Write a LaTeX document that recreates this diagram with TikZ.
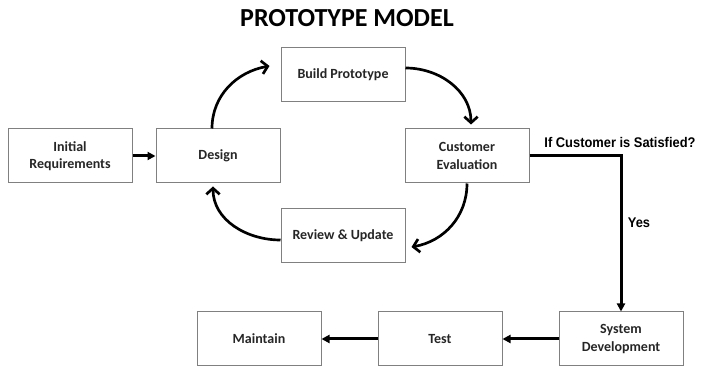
\documentclass[tikz,border=0pt]{standalone}
\usepackage{fontspec}
\usepackage{graphicx}
\setmainfont{Carlito}
\newfontfamily\arialfont{Liberation Sans}
\usetikzlibrary{arrows.meta}
\tikzset{every picture/.style={line width=0.75pt}}
\tikzset{
  stage/.style={draw=black!50, fill=white, line width=0.75pt, minimum width=93pt, minimum height=40.5pt,
    inner sep=1pt, align=center, text=black!85, font=\bfseries\fontsize{10.5}{13}\selectfont},
  loop arrow/.style={line width=2pt, -{Straight Barb[length=4.5pt,width=10pt]}},
  flow arrow/.style={line width=2.25pt, -{Triangle[length=6pt,width=6pt]}},
}

\begin{document}
\begin{tikzpicture}[x=0.75pt,y=0.75pt,yscale=-1,xscale=1]
\useasboundingbox (0,0) rectangle (701,367);

% heading
\draw (347,18) node [font=\bfseries\fontsize{19.5}{21}\selectfont, text=black] (title) {PROTOTYPE MODEL};

% prototyping loop
\draw (70,156) node [stage] (init) {Initial\\Requirements};
\draw (218,156) node [stage] (design) {Design};
\draw (343,75) node [stage] (build) {Build Prototype};
\draw (467,156) node [stage] (cust) {Customer\\Evaluation};
\draw (343,236) node [stage] (review) {Review \& Update};

% after the customer agrees
\draw (621,339) node [stage] (sysdev) {System\\Development};
\draw (440,339) node [stage] (test) {Test};
\draw (259,339) node [stage] (maint) {Maintain};

\draw (620,142) node [font=\arialfont\bfseries\fontsize{10.5}{12}\selectfont] (ask) {\scalebox{0.92}[1]{If Customer is Satisfied?}};
\draw (639,223) node [font=\arialfont\bfseries\fontsize{10.5}{12}\selectfont] (yes) {\scalebox{0.92}[1]{Yes}};

% yscale=-1 flips the angles and y shifts below
\draw [flow arrow] (init) -- (design);
\draw [loop arrow] ([xshift=-4.5pt]design.north) to[out=270,in=170] ([xshift=-8.25pt,yshift=-6.75pt]build.west);
\draw [loop arrow] ([yshift=-5.25pt]build.east) to[out=0,in=270] ([xshift=3pt,yshift=-3pt]cust.north);
\draw [loop arrow] (cust.south) to[out=90,in=350] ([xshift=4.5pt,yshift=8.25pt]review.east);
\draw [loop arrow] ([yshift=3pt]review.west) to[out=180,in=90] ([xshift=-3.75pt,yshift=2.25pt]design.south);

\draw [flow arrow] (cust.east) -| (sysdev.north);
\draw [flow arrow] (sysdev) -- (test);
\draw [flow arrow] (test) -- (maint);
\end{tikzpicture}
\end{document}
